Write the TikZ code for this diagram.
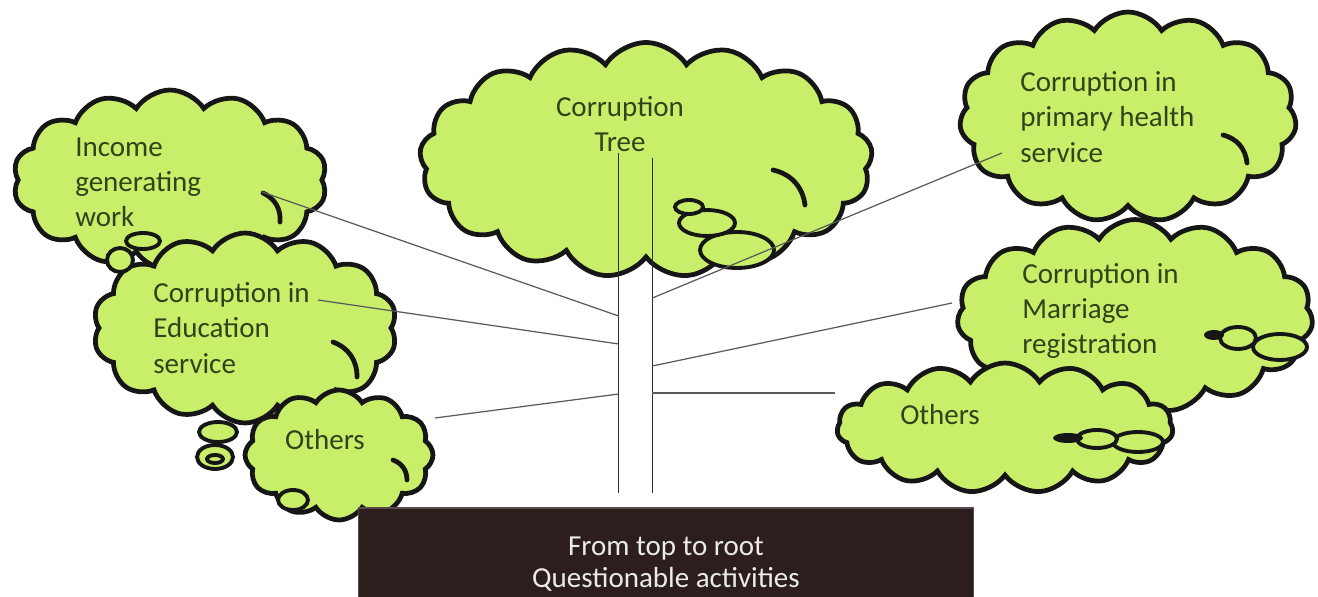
\documentclass[tikz,border=0pt]{standalone}
\usepackage{fontspec}
\setmainfont{Carlito}
\usetikzlibrary{shapes.symbols}
\definecolor{Leaf}{HTML}{C8EE6A}
\definecolor{Ink}{HTML}{161616}
\definecolor{LeafText}{HTML}{34421A}
\definecolor{Bark}{HTML}{2D1E1E}
\definecolor{Twig}{HTML}{5A5A5A}
\definecolor{Stem}{HTML}{2E2E2E}
\tikzset{
  puff/.style={cloud,cloud puffs=#1,cloud puff arc=115,cloud ignores aspect,draw=Ink,line width=2.7pt,fill=Leaf,inner sep=0pt},
  puff/.default=13,
  bubble/.style={draw=Ink,line width=2.2pt,fill=Leaf},
  blob/.style={fill=Ink},
  hook/.style={draw=Ink,line width=2.7pt,line cap=round},
  cloudtext/.style={text=LeafText,align=left,inner sep=0pt,font=\fontsize{16.5}{20}\selectfont},
  rootbox/.style={fill=Bark,draw=Bark!80!white,line width=0.6pt,text=white!92!black,align=center,font=\fontsize{16.5}{18.2}\selectfont},
  branch/.style={draw=Twig,line width=0.7pt},
  stemline/.style={draw=Stem,line width=0.9pt}
}
\begin{document}
\begin{tikzpicture}[x=0.02cm,y=-0.02cm]
  \useasboundingbox (0,0) rectangle (1318,597);
  % crown of the tree
  \node[puff=17,minimum width=9.06cm,minimum height=4.7cm] (crown) at (646,160) {};
  \draw[hook] (773,170) to[bend left=35] (805,205);
  \draw[bubble] (737,250) ellipse [x radius=0.74cm,y radius=0.36cm];
  \draw[bubble] (707,223) ellipse [x radius=0.56cm,y radius=0.26cm];
  \draw[bubble] (689,207) ellipse [x radius=0.28cm,y radius=0.14cm];
  % right side clouds
  \node[puff=15,minimum width=6.74cm,minimum height=4.2cm] (health) at (1128,117) {};
  \draw[hook] (1223,135) to[bend left=35] (1247,163);
  \node[puff=15,minimum width=7.12cm,minimum height=3.86cm] (marriage) at (1135,316) {};
  \draw[bubble] (1280,347) ellipse [x radius=0.54cm,y radius=0.26cm];
  \draw[bubble] (1238,338) ellipse [x radius=0.36cm,y radius=0.22cm];
  \fill[blob] (1214,335) ellipse [x radius=0.2cm,y radius=0.1cm];
  \node[puff=15,minimum width=6.72cm,minimum height=2.6cm] (othersR) at (1005,428) {};
  \draw[bubble] (1138,442) ellipse [x radius=0.5cm,y radius=0.2cm];
  \draw[bubble] (1097,439) ellipse [x radius=0.4cm,y radius=0.18cm];
  \fill[blob] (1068,438) ellipse [x radius=0.3cm,y radius=0.1cm];
  % left side clouds
  \node[puff=14,minimum width=6.28cm,minimum height=3.6cm] (income) at (170,180) {};
  \draw[hook] (263,193) to[bend left=35] (280,222);
  \node[puff=14,minimum width=6.08cm,minimum height=3.8cm] (education) at (245,328) {};
  \draw[hook] (333,342) to[bend left=35] (357,377);
  \draw[bubble] (120,260) ellipse [x radius=0.26cm,y radius=0.24cm];
  \draw[bubble] (143,241) ellipse [x radius=0.34cm,y radius=0.16cm];
  \draw[bubble] (215,457) ellipse [x radius=0.36cm,y radius=0.24cm];
  \draw[bubble] (215,459) ellipse [x radius=0.16cm,y radius=0.08cm];
  \draw[bubble] (218,432) ellipse [x radius=0.38cm,y radius=0.2cm];
  \node[puff=12,minimum width=3.76cm,minimum height=2.6cm] (othersL) at (339,455) {};
  \draw[hook] (393,460) to[bend left=35] (407,480);
  \draw[bubble] (293,500) ellipse [x radius=0.3cm,y radius=0.2cm];
  % trunk and branches
  \node[minimum width=0.66cm,minimum height=6.8cm,inner sep=0pt] (trunk) at (635.5,323) {};
  \draw[stemline] (trunk.north west) -- (trunk.south west);
  \draw[stemline] ([yshift=-0.1cm]trunk.north east) -- (trunk.south east);
  \coordinate (incomeTip) at (262,192);
  \coordinate (eduTip) at (318,300);
  \coordinate (othersLTip) at (435,418);
  \coordinate (healthTip) at (1002,153);
  \coordinate (marriageTip) at (952,303);
  \coordinate (othersRTip) at (835,393);
  \draw[branch] (incomeTip) -- (trunk.west |- 0,316);
  \draw[branch] (eduTip) -- (trunk.west |- 0,344);
  \draw[branch] (othersLTip) -- (trunk.west |- 0,394);
  \draw[branch] (trunk.east |- 0,298) -- (healthTip);
  \draw[branch] (trunk.east |- 0,366) -- (marriageTip);
  \draw[branch] (trunk.east |- 0,393) -- (othersRTip);
  % labels
  \node[cloudtext,align=center] (crownText) at (620,124) {Corruption\\Tree};
  \node[cloudtext,anchor=west] (incomeText) at (75,182) {Income\\generating\\work};
  \node[cloudtext,anchor=west] (eduText) at (153,328) {Corruption in\\Education\\service};
  \node[cloudtext] (othersLText) at (325,440) {Others};
  \node[cloudtext,anchor=west] (healthText) at (1020,117) {Corruption in\\primary health\\service};
  \node[cloudtext,anchor=west] (marriageText) at (1022,311) {Corruption in\\Marriage\\registration};
  \node[cloudtext] (othersRText) at (940,415) {Others};
  % root box
  \node[rootbox,minimum width=12.32cm,minimum height=2.24cm] (root) at (666,564) {From top to root\\Questionable activities};
\end{tikzpicture}
\end{document}
